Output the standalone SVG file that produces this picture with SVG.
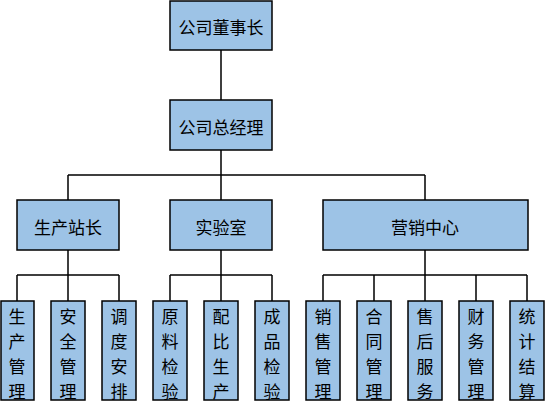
<svg xmlns="http://www.w3.org/2000/svg" width="545" height="401" viewBox="0 0 545 401">
<style>
.box{fill:#9DC3E6;stroke:#000;stroke-width:1.5}
.t{font-family:"Noto Sans CJK SC","Noto Sans",sans-serif;font-size:17px;fill:#000;text-anchor:middle;dominant-baseline:central}
.c{fill:none;stroke:#000;stroke-width:1.5}
</style>
<rect width="545" height="401" fill="#fff"/>
<g id="connectors">
<path class="c" d="M221,50V100M221,150V175M68,175H425M68,175V200M221,175V200M425,175V200"/>
<path class="c" d="M68,250V275M17,275H119M17,275V301M68,275V301M119,275V301"/>
<path class="c" d="M221,250V275M170,275H272M170,275V301M221,275V301M272,275V301"/>
<path class="c" d="M425,250V275M323,275H527M323,275V301M374,275V301M425,275V301M476,275V301M527,275V301"/>
</g>
<g id="n-board"><rect class="box" x="170" y="1" width="102" height="49"/><text class="t" x="221" y="26">公司董事长</text></g>
<g id="n-gm"><rect class="box" x="170" y="100" width="102" height="50"/><text class="t" x="221" y="126">公司总经理</text></g>
<g id="n-prod"><rect class="box" x="17" y="200" width="102" height="50"/><text class="t" x="68" y="226">生产站长</text></g>
<g id="n-lab"><rect class="box" x="170" y="200" width="102" height="50"/><text class="t" x="221" y="226">实验室</text></g>
<g id="n-sales"><rect class="box" x="323" y="200" width="205" height="50"/><text class="t" x="425" y="226">营销中心</text></g>
<g id="l1"><rect class="box" x="1" y="301" width="33" height="99"/><text class="t" x="17"><tspan x="17" y="315">生</tspan><tspan x="17" y="340">产</tspan><tspan x="17" y="365">管</tspan><tspan x="17" y="390">理</tspan></text></g>
<g id="l2"><rect class="box" x="51" y="301" width="34" height="99"/><text class="t"><tspan x="68" y="315">安</tspan><tspan x="68" y="340">全</tspan><tspan x="68" y="365">管</tspan><tspan x="68" y="390">理</tspan></text></g>
<g id="l3"><rect class="box" x="102" y="301" width="34" height="99"/><text class="t"><tspan x="119" y="315">调</tspan><tspan x="119" y="340">度</tspan><tspan x="119" y="365">安</tspan><tspan x="119" y="390">排</tspan></text></g>
<g id="l4"><rect class="box" x="153" y="301" width="34" height="99"/><text class="t"><tspan x="170" y="315">原</tspan><tspan x="170" y="340">料</tspan><tspan x="170" y="365">检</tspan><tspan x="170" y="390">验</tspan></text></g>
<g id="l5"><rect class="box" x="204" y="301" width="34" height="99"/><text class="t"><tspan x="221" y="315">配</tspan><tspan x="221" y="340">比</tspan><tspan x="221" y="365">生</tspan><tspan x="221" y="390">产</tspan></text></g>
<g id="l6"><rect class="box" x="255" y="301" width="34" height="99"/><text class="t"><tspan x="272" y="315">成</tspan><tspan x="272" y="340">品</tspan><tspan x="272" y="365">检</tspan><tspan x="272" y="390">验</tspan></text></g>
<g id="l7"><rect class="box" x="306" y="301" width="34" height="99"/><text class="t"><tspan x="323" y="315">销</tspan><tspan x="323" y="340">售</tspan><tspan x="323" y="365">管</tspan><tspan x="323" y="390">理</tspan></text></g>
<g id="l8"><rect class="box" x="357" y="301" width="34" height="99"/><text class="t"><tspan x="374" y="315">合</tspan><tspan x="374" y="340">同</tspan><tspan x="374" y="365">管</tspan><tspan x="374" y="390">理</tspan></text></g>
<g id="l9"><rect class="box" x="408" y="301" width="34" height="99"/><text class="t"><tspan x="425" y="315">售</tspan><tspan x="425" y="340">后</tspan><tspan x="425" y="365">服</tspan><tspan x="425" y="390">务</tspan></text></g>
<g id="l10"><rect class="box" x="459" y="301" width="34" height="99"/><text class="t"><tspan x="476" y="315">财</tspan><tspan x="476" y="340">务</tspan><tspan x="476" y="365">管</tspan><tspan x="476" y="390">理</tspan></text></g>
<g id="l11"><rect class="box" x="510" y="301" width="34" height="99"/><text class="t"><tspan x="527" y="315">统</tspan><tspan x="527" y="340">计</tspan><tspan x="527" y="365">结</tspan><tspan x="527" y="390">算</tspan></text></g>
</svg>
